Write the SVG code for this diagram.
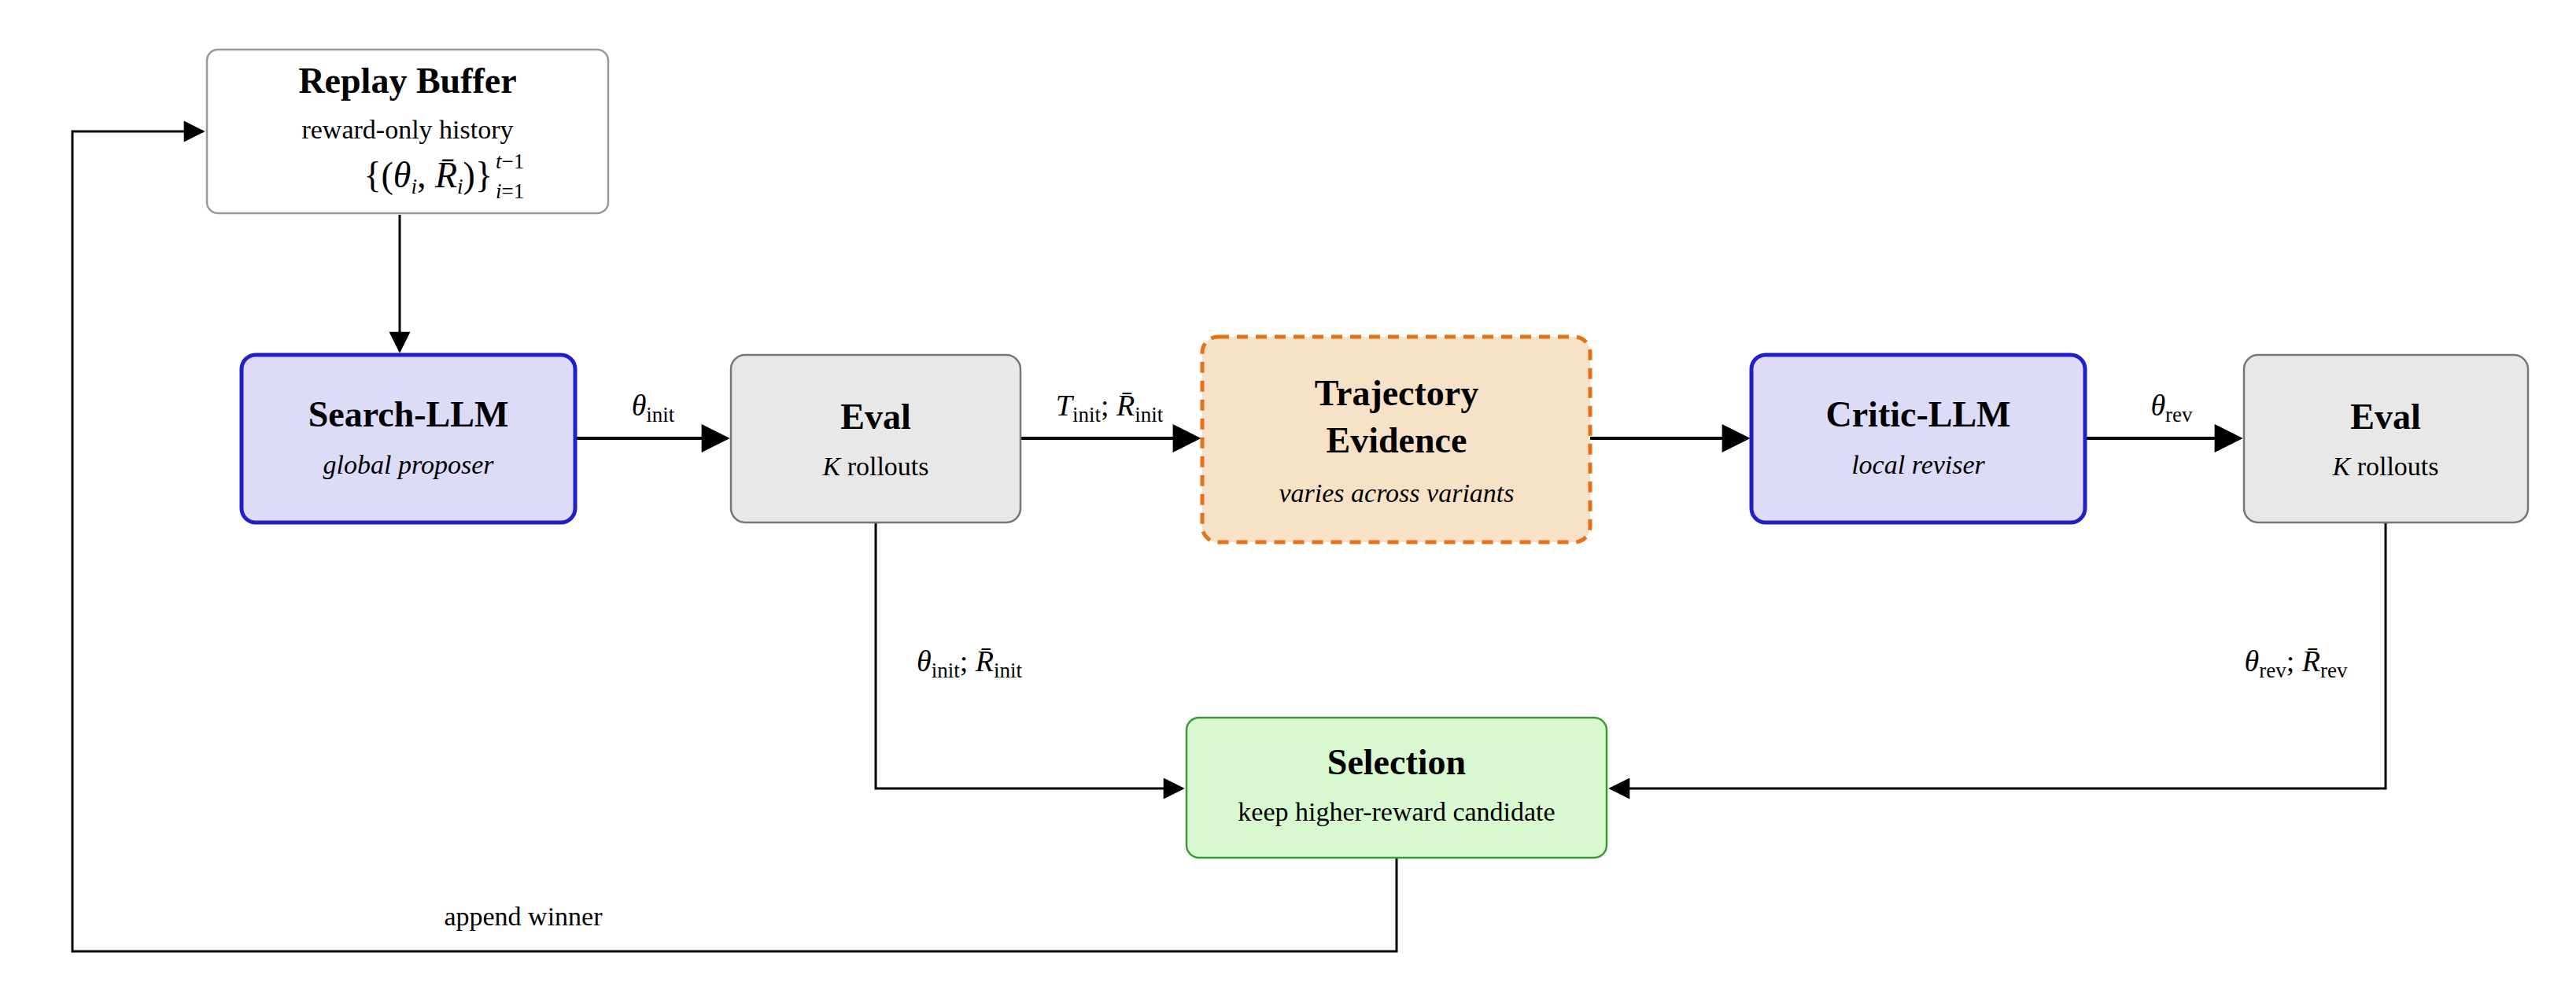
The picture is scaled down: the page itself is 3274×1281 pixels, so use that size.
<svg xmlns="http://www.w3.org/2000/svg" width="3274" height="1281" viewBox="0 0 3274 1281">
<defs>
<marker id="a" viewBox="0 0 10 10" refX="9" refY="5" markerWidth="10" markerHeight="9" orient="auto"><path d="M0,0 L10,5 L0,10 z" fill="#000"/></marker>
</defs>
<style>
text{font-family:"Liberation Serif","DejaVu Serif",serif;fill:#000;text-anchor:middle}
.t{font-size:46px;font-weight:bold}
.s{font-size:34px}
.i{font-style:italic}
.m{font-size:38px}
.sub{font-size:27px}
.c{fill:none;stroke:#000;stroke-width:4}
.c2{fill:none;stroke:#000;stroke-width:3}
</style>
<rect width="3274" height="1281" fill="#fff"/>
<g id="connectors">
<path class="c2" d="M508,273 V446" marker-end="url(#a)"/>
<path class="c" d="M731,557 H924" marker-end="url(#a)"/>
<path class="c" d="M1297,557 H1523" marker-end="url(#a)"/>
<path class="c" d="M2021,557 H2221" marker-end="url(#a)"/>
<path class="c" d="M2650,557 H2847" marker-end="url(#a)"/>
<path class="c2" d="M1113,664 V1002 H1503" marker-end="url(#a)"/>
<path class="c2" d="M3032,664 V1002 H2047" marker-end="url(#a)"/>
<path class="c2" d="M1775,1090 V1209 H92 V167 H258" marker-end="url(#a)"/>
<text class="m" x="830" y="528"><tspan class="i">θ</tspan><tspan class="sub" dy="8">init</tspan></text>
<text class="m" x="1410" y="528"><tspan class="i">T</tspan><tspan class="sub" dy="8">init</tspan><tspan dy="-8">; </tspan><tspan class="i">R̄</tspan><tspan class="sub" dy="8">init</tspan></text>
<text class="m" x="2760" y="528"><tspan class="i">θ</tspan><tspan class="sub" dy="8">rev</tspan></text>
<text class="m" x="1232" y="853"><tspan class="i">θ</tspan><tspan class="sub" dy="8">init</tspan><tspan dy="-8">; </tspan><tspan class="i">R̄</tspan><tspan class="sub" dy="8">init</tspan></text>
<text class="m" x="2918" y="853"><tspan class="i">θ</tspan><tspan class="sub" dy="8">rev</tspan><tspan dy="-8">; </tspan><tspan class="i">R̄</tspan><tspan class="sub" dy="8">rev</tspan></text>
<text class="s" x="665" y="1176">append winner</text>
</g>
<g id="replay">
<rect x="263" y="63" width="510" height="208" rx="14" fill="#fff" stroke="#999" stroke-width="2.5"/>
<text class="t" x="518" y="118">Replay Buffer</text>
<text class="s" x="518" y="176">reward-only history</text>
<text x="626" y="238" style="font-size:46px;text-anchor:end">{(<tspan class="i">θ</tspan><tspan class="sub i" dy="8">i</tspan><tspan dy="-8">, </tspan><tspan class="i">R̄</tspan><tspan class="sub i" dy="8">i</tspan><tspan dy="-8">)}</tspan></text>
<text class="sub" x="630" y="214" style="text-anchor:start"><tspan class="i">t</tspan>−1</text>
<text class="sub" x="630" y="252" style="text-anchor:start"><tspan class="i">i</tspan>=1</text>
</g>
<g id="search">
<rect x="307" y="451" width="424" height="213" rx="18" fill="#dcdcf8" stroke="#2020c8" stroke-width="5"/>
<text class="t" x="519" y="542">Search-LLM</text>
<text class="s i" x="519" y="602">global proposer</text>
</g>
<g id="eval1">
<rect x="929" y="451" width="368" height="213" rx="18" fill="#e8e8e8" stroke="#777" stroke-width="2.5"/>
<text class="t" x="1113" y="545">Eval</text>
<text class="s" x="1113" y="604"><tspan class="i">K</tspan> rollouts</text>
</g>
<g id="trajectory">
<rect x="1528" y="428" width="493" height="261" rx="20" fill="#f7e2c8" stroke="#e57316" stroke-width="5" stroke-dasharray="14,10"/>
<text class="t" x="1775" y="515">Trajectory</text>
<text class="t" x="1775" y="575">Evidence</text>
<text class="s i" x="1775" y="638">varies across variants</text>
</g>
<g id="critic">
<rect x="2226" y="451" width="424" height="213" rx="18" fill="#dcdcf8" stroke="#2020c8" stroke-width="5"/>
<text class="t" x="2438" y="542">Critic-LLM</text>
<text class="s i" x="2438" y="602">local reviser</text>
</g>
<g id="eval2">
<rect x="2852" y="451" width="361" height="213" rx="18" fill="#e8e8e8" stroke="#777" stroke-width="2.5"/>
<text class="t" x="3032" y="545">Eval</text>
<text class="s" x="3032" y="604"><tspan class="i">K</tspan> rollouts</text>
</g>
<g id="selection">
<rect x="1508" y="912" width="534" height="178" rx="16" fill="#d8f8d0" stroke="#3a9a3a" stroke-width="2.5"/>
<text class="t" x="1775" y="984">Selection</text>
<text class="s" x="1775" y="1043">keep higher-reward candidate</text>
</g>
</svg>
